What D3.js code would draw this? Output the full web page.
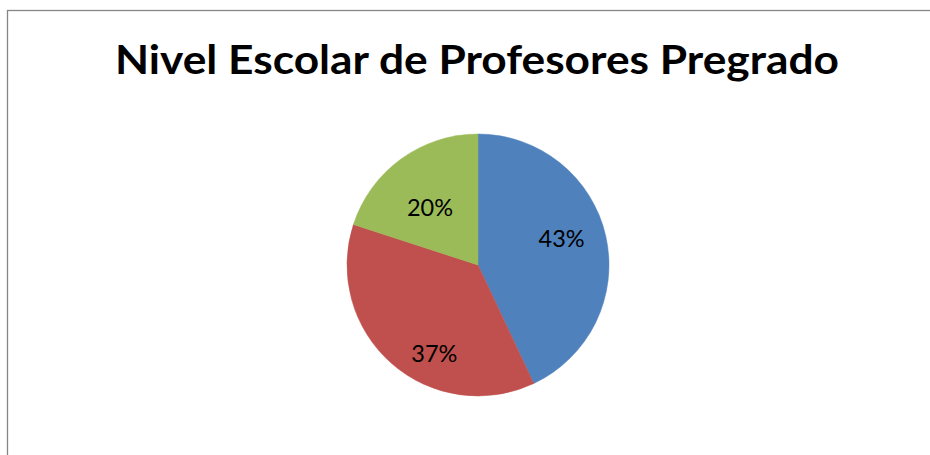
<!DOCTYPE html>
<html>
<head>
    <meta charset="utf-8">
    <script src="https://cdn.jsdelivr.net/npm/d3@7"></script>
    <style>
        body { margin: 0; background: #fff; }
    </style>
</head>
<body>
    <div id="chart"></div>
    <script>
        // values
        const categories = ["A", "B", "C"];
        const shares = [43, 37, 20];
        const labels = ["43%", "37%", "20%"];
        const colors = ["#4F81BD", "#C0504D", "#9BBB59"];
        const title = "Nivel Escolar de Profesores Pregrado";

        // label placement (fraction of radius, angle nudge in degrees), like Excel's best fit
        const labelRadius = [0.67, 0.75, 0.57];
        const labelNudge = [-5, -15, -4];

        const width = 930, height = 455;
        const svg = d3.select("#chart").append("svg")
            .attr("width", width).attr("height", height);

        // chart frame (runs off right/bottom edge like the source)
        svg.append("rect")
            .attr("x", 7.5).attr("y", 10.5)
            .attr("width", 940).attr("height", 460)
            .attr("fill", "#fff")
            .attr("stroke", "#868686")
            .attr("stroke-width", 1.3);

        svg.append("text")
            .attr("x", 115).attr("y", 74)
            .attr("textLength", 724)
            .attr("lengthAdjust", "spacingAndGlyphs")
            .style("font-family", "Lato, 'Open Sans', sans-serif")
            .style("font-weight", "bold")
            .style("font-size", "40px")
            .attr("fill", "#000")
            .text(title);

        const cx = 478, cy = 265, r = 131;
        const pie = d3.pie().sort(null).value(d => d);
        const arcs = pie(shares);
        const arc = d3.arc().innerRadius(0).outerRadius(r);

        const g = svg.append("g").attr("transform", `translate(${cx},${cy})`);

        g.selectAll("path").data(arcs).join("path")
            .attr("d", arc)
            .attr("fill", (d, i) => colors[i])
            .attr("stroke", (d, i) => colors[i])
            .attr("stroke-width", 0.5);

        function labelPos(d, i) {
            const a = (d.startAngle + d.endAngle) / 2 + labelNudge[i] * Math.PI / 180;
            const rr = r * labelRadius[i];
            return [Math.sin(a) * rr, -Math.cos(a) * rr];
        }

        g.selectAll("text").data(arcs).join("text")
            .attr("x", (d, i) => labelPos(d, i)[0])
            .attr("y", (d, i) => labelPos(d, i)[1] + 8.5)
            .attr("text-anchor", "middle")
            .style("font-family", "Lato, 'Open Sans', sans-serif")
            .style("font-size", "23.5px")
            .attr("fill", "#000")
            .text((d, i) => labels[i]);
    </script>
</body>
</html>
